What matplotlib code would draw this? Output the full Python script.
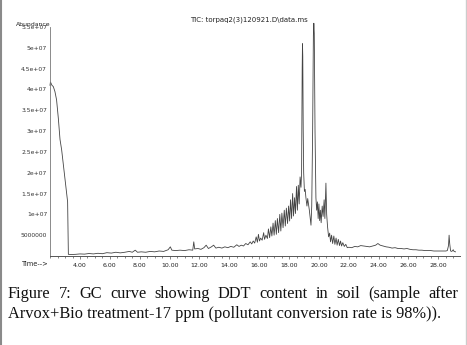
import matplotlib
matplotlib.use("Agg")
import matplotlib.pyplot as plt
from matplotlib.lines import Line2D
from matplotlib.ticker import MultipleLocator, FixedLocator

# ---- data (retention time in min, abundance in units of 1e6) ----
time_min = [1.99, 2.02, 2.06, 2.12, 2.21, 2.32, 2.43, 2.55, 2.66, 2.77, 2.88, 2.99, 3.08, 3.17, 3.20, 3.22,
            3.4, 3.7, 4.0, 4.3, 4.6, 4.9, 5.2, 5.5, 5.8, 6.1, 6.4, 6.7, 7.0, 7.3, 7.5, 7.7, 7.85, 8.1, 8.4, 8.7,
            9.0, 9.3, 9.6, 9.9, 10.05, 10.15, 10.4, 10.7, 11.0, 11.3, 11.55, 11.62, 11.68, 11.9, 12.1, 12.3,
            12.45, 12.6, 12.8, 12.95, 13.1, 13.3, 13.5, 13.7, 13.9, 14.1, 14.3, 14.5, 14.65, 14.8, 14.95, 15.1,
            15.25, 15.4, 15.5, 15.6, 15.7, 15.8, 15.88, 15.95, 16.02, 16.1, 16.2, 16.3, 16.36, 16.45, 16.55,
            16.62, 16.7, 16.78, 16.85, 16.93, 17.0, 17.08, 17.15, 17.22, 17.3, 17.38, 17.45, 17.52, 17.6, 17.68,
            17.75, 17.82, 17.9, 17.97, 18.04, 18.1, 18.17, 18.24, 18.3, 18.37, 18.43, 18.5, 18.56, 18.62, 18.68,
            18.74, 18.8, 18.84, 18.88, 18.9, 18.92, 18.95, 18.98, 19.03, 19.08, 19.13, 19.2, 19.25, 19.3, 19.36,
            19.42, 19.47, 19.52, 19.58, 19.63, 19.66, 19.69, 19.74, 19.8, 19.85, 19.9, 19.95, 20.0, 20.05, 20.1,
            20.15, 20.22, 20.28, 20.35, 20.4, 20.47, 20.52, 20.58, 20.65, 20.72, 20.78, 20.85, 20.92, 21.0, 21.07,
            21.15, 21.22, 21.3, 21.38, 21.45, 21.52, 21.6, 21.7, 21.8, 21.9, 22.0, 22.2, 22.4, 22.6, 22.8, 23.0,
            23.2, 23.4, 23.6, 23.8, 23.95, 24.1, 24.3, 24.5, 24.7, 24.9, 25.1, 25.3, 25.5, 25.7, 25.9, 26.1, 26.3,
            26.5, 26.7, 26.9, 27.1, 27.3, 27.5, 27.7, 27.9, 28.1, 28.3, 28.5, 28.6, 28.68, 28.72, 28.76, 28.82,
            28.9, 29.0, 29.05, 29.15]
abundance_m = [41.0, 41.8, 41.5, 41.0, 40.7, 39.5, 37.5, 33.0, 28.0, 25.5, 22.0, 18.3, 15.5, 13.0, 6.0, 0.4,
               0.35, 0.4, 0.5, 0.45, 0.6, 0.5, 0.65, 0.55, 0.8, 0.7, 0.9, 0.75, 0.9, 1.1, 0.9, 1.4, 0.9, 1.0, 0.9, 1.1,
               1.0, 1.2, 1.1, 1.5, 2.2, 1.4, 1.3, 1.4, 1.3, 1.5, 1.4, 3.4, 1.7, 1.8, 1.6, 2.0,
               2.6, 1.8, 2.2, 2.6, 1.9, 2.1, 1.9, 2.2, 2.0, 2.3, 2.1, 2.7, 2.3, 2.6, 2.4, 3.0,
               2.7, 3.4, 2.9, 3.6, 3.1, 4.6, 3.3, 5.2, 3.6, 4.3, 3.8, 5.6, 4.0, 5.0, 4.2,
               6.5, 4.4, 7.0, 4.8, 7.9, 5.0, 8.5, 5.2, 9.0, 5.6, 10.0, 6.0, 10.3, 6.8, 11.0,
               7.2, 11.5, 7.8, 12.0, 8.4, 13.5, 9.0, 15.0, 9.6, 14.0, 10.2, 16.7, 11.0, 17.0, 12.5,
               19.0, 16.5, 20.0, 45.0, 51.0, 48.0, 30.0, 20.0, 15.5, 16.0, 14.0, 12.0, 13.8, 12.5, 11.0,
               9.0, 7.4, 12.0, 30.0, 53.0, 55.9, 53.5, 30.0, 14.0, 11.0, 13.0, 9.0, 12.5, 8.5, 11.0,
               8.0, 12.0, 9.5, 13.5, 9.0, 17.5, 10.0, 7.0, 4.6, 5.5, 3.4, 5.0, 3.0, 4.8, 2.8,
               4.3, 2.6, 4.0, 2.5, 3.6, 2.4, 3.2, 2.3, 2.8, 2.0, 2.1, 2.0, 2.3, 2.2, 2.5, 2.4,
               2.3, 2.2, 2.4, 2.6, 3.0, 2.6, 2.4, 2.2, 2.1, 1.9, 2.0, 1.8, 1.8, 1.7, 1.8, 1.6, 1.5,
               1.5, 1.4, 1.4, 1.3, 1.3, 1.3, 1.2, 1.2, 1.2, 1.2, 1.2, 1.3, 2.5, 5.0, 3.0, 1.2,
               1.1, 1.5, 1.1, 1.0]

y_ticks = [5e6, 1e7, 1.5e7, 2e7, 2.5e7, 3e7, 3.5e7, 4e7, 4.5e7, 5e7, 5.5e7]
y_tick_labels = ["5000000", "1e+07", "1.5e+07", "2e+07", "2.5e+07", "3e+07", "3.5e+07",
                 "4e+07", "4.5e+07", "5e+07", "5.5e+07"]
x_ticks = [4, 6, 8, 10, 12, 14, 16, 18, 20, 22, 24, 26, 28]
x_tick_labels = ["%.2f" % v for v in x_ticks]

title_text = "TIC: torpaq2(3)120921.D\\data.ms"
caption_line1 = "Figure 7: GC curve showing DDT content in soil (sample after"
caption_line2 = "Arvox+Bio treatment-17 ppm (pollutant conversion rate is 98%))."

W, H = 467, 345
fig = plt.figure(figsize=(W / 100, H / 100), dpi=100)
fig.patch.set_facecolor("white")

ax = fig.add_axes([50 / W, (H - 256) / H, 410 / W, (256 - 16.6) / H])
ax.plot(time_min, [v * 1e6 for v in abundance_m], color="#444444", lw=0.6, clip_on=False)
ax.set_xlim(1.99, 29.45)
ax.set_ylim(0, 5.75e7)
for s in ("top", "right"):
    ax.spines[s].set_visible(False)
ax.spines["left"].set_bounds(0, 5.5e7)
ax.spines["left"].set_color("#777777")
ax.spines["bottom"].set_color("#555555")
ax.spines["left"].set_linewidth(0.6)
ax.spines["bottom"].set_linewidth(0.7)
ax.yaxis.set_major_locator(FixedLocator(y_ticks))
ax.set_yticklabels(y_tick_labels)
ax.xaxis.set_major_locator(FixedLocator(x_ticks))
ax.set_xticklabels(x_tick_labels)
ax.xaxis.set_minor_locator(MultipleLocator(0.5))
ax.tick_params(axis="y", length=0, labelsize=4.3, pad=2, labelcolor="#333333")
ax.tick_params(axis="x", which="major", length=2, width=0.5, labelsize=4.5, pad=3,
               labelcolor="#222222", color="#555555")
ax.tick_params(axis="x", which="minor", length=1.5, width=0.5, color="#555555")

fig.text(16 / W, 1 - 24 / H, "Abundance", fontsize=4.4, ha="left", va="center", color="#222222")
fig.text(22 / W, 1 - 264 / H, "Time-->", fontsize=4.8, ha="left", va="center", color="#222222")
fig.text(249 / W, 1 - 20 / H, title_text, fontsize=5.0, ha="center", va="center", color="#222222")

# caption (serif, first line justified)
cap_fs = 11.8
serif = "Liberation Serif"
fig.canvas.draw()
renderer = fig.canvas.get_renderer()
words = caption_line1.split(" ")
wtexts = [fig.text(0, 0, w, fontsize=cap_fs, family=serif, color="#111111") for w in words]
widths = [t.get_window_extent(renderer).width for t in wtexts]
x0, x1 = 8, 458
gap = (x1 - x0 - sum(widths)) / (len(words) - 1)
x = x0
for t, wd in zip(wtexts, widths):
    t.set_position((x / W, 1 - 298 / H))
    t.set_va("baseline")
    x += wd + gap
fig.text(8 / W, 1 - 318 / H, caption_line2, fontsize=cap_fs, family=serif, color="#111111", va="baseline")

# page borders
fig.add_artist(Line2D([1 / W, 1 / W], [0, 1], transform=fig.transFigure, color="#8a8a8a", lw=1.5))
fig.add_artist(Line2D([466 / W, 466 / W], [0, 1], transform=fig.transFigure, color="#cccccc", lw=1.0))

fig.savefig("out.png", dpi=100)
